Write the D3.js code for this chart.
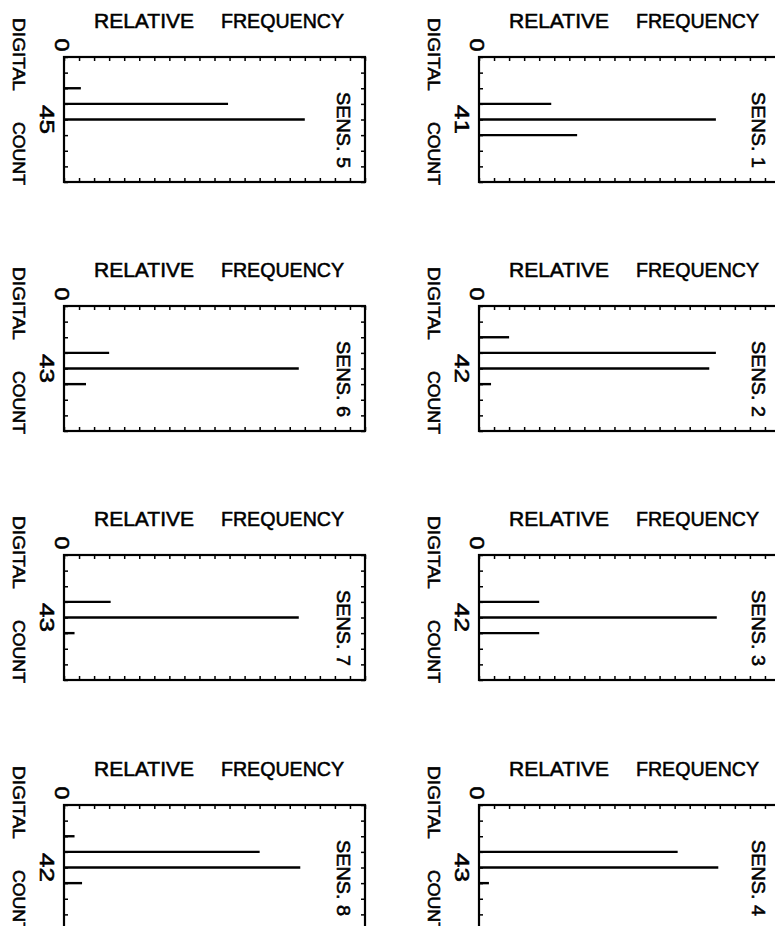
<!DOCTYPE html>
<html>
<head>
<meta charset="utf-8">
<script src="https://cdn.jsdelivr.net/npm/d3@7"></script>
<style>
  body { margin: 0; background: #fff; }
  svg text { font-family: "Liberation Sans", Arial, sans-serif; fill: #000; stroke: #000; stroke-width: 0.55; }
</style>
</head>
<body>
<div id="chart"></div>
<script>
// sensor histograms: digital count bins and relative frequency
const sensorIds    = [1, 2, 3, 4, 5, 6, 7, 8];
const centerCounts = [41, 42, 42, 43, 45, 43, 43, 42];
const binCounts = [
  [40, 41, 42],
  [40, 41, 42, 43],
  [41, 42, 43],
  [42, 43, 44],
  [43, 44, 45],
  [42, 43, 44],
  [42, 43, 44],
  [40, 41, 42, 43]
];
const binFreqs = [
  [0.24, 0.787, 0.326],
  [0.10, 0.787, 0.765, 0.04],
  [0.20, 0.79, 0.20],
  [0.66, 0.795, 0.033],
  [0.056, 0.545, 0.80],
  [0.15, 0.78, 0.073],
  [0.155, 0.78, 0.035],
  [0.035, 0.65, 0.785, 0.06]
];

const W = 775, H = 926;
const config = {
  colX: [64, 479],          // left column holds sensors 5-8, right 1-4
  rowY: [57, 306, 555, 805],
  boxW: 301,
  boxH: 125
};

const svg = d3.select('#chart').append('svg')
  .attr('width', W)
  .attr('height', H);

sensorIds.forEach((id, i) => {
  const col = id <= 4 ? 1 : 0;
  const row = (id - 1) % 4;
  const x0 = config.colX[col], y0 = config.rowY[row];
  const w = config.boxW, h = config.boxH;
  const c = centerCounts[i];

  const x = d3.scaleLinear().domain([0, 1]).range([x0, x0 + w]);
  const y = d3.scaleLinear().domain([c - 4, c + 4]).range([y0, y0 + h]);

  const g = svg.append('g').attr('class', 'panel');

  // inward ticks on all four sides
  const tickStyle = sel => {
    sel.select('.domain').remove();
    sel.selectAll('.tick line').attr('stroke', '#000').attr('stroke-width', 1.5);
    sel.selectAll('.tick text').remove();
  };
  g.append('g').attr('transform', `translate(0,${y0})`)
    .call(d3.axisTop(x).ticks(20).tickSize(-4).tickFormat('')).call(tickStyle);
  g.append('g').attr('transform', `translate(0,${y0 + h})`)
    .call(d3.axisBottom(x).ticks(20).tickSize(-4).tickFormat('')).call(tickStyle);
  g.append('g').attr('transform', `translate(${x0},0)`)
    .call(d3.axisLeft(y).ticks(8).tickSize(-4).tickFormat('')).call(tickStyle);
  g.append('g').attr('transform', `translate(${x0 + w},0)`)
    .call(d3.axisRight(y).ticks(8).tickSize(-4).tickFormat('')).call(tickStyle);

  g.append('rect')
    .attr('x', x0).attr('y', y0)
    .attr('width', w).attr('height', h)
    .attr('fill', 'none')
    .attr('stroke', '#000')
    .attr('stroke-width', 2.2);

  // histogram bars, drawn as single strokes from the left edge
  g.selectAll('line.bar')
    .data(binCounts[i].map((k, j) => ({count: k, freq: binFreqs[i][j]})))
    .enter().append('line')
    .attr('class', 'bar')
    .attr('x1', x(0))
    .attr('x2', d => x(d.freq))
    .attr('y1', d => y(d.count))
    .attr('y2', d => y(d.count))
    .attr('stroke', '#000')
    .attr('stroke-width', 2.4);

  // titles
  g.append('text')
    .attr('x', x0 + 30).attr('y', y0 - 29)
    .attr('font-size', 20.5)
    .attr('textLength', 100).attr('lengthAdjust', 'spacingAndGlyphs')
    .text('RELATIVE');
  g.append('text')
    .attr('x', x0 + 157).attr('y', y0 - 29)
    .attr('font-size', 20.5)
    .attr('textLength', 123).attr('lengthAdjust', 'spacingAndGlyphs')
    .text('FREQUENCY');

  g.append('text')
    .attr('transform', `translate(${x0 - 9},${y0 - 12}) rotate(90)`)
    .attr('text-anchor', 'middle')
    .attr('font-size', 20)
    .attr('textLength', 13).attr('lengthAdjust', 'spacingAndGlyphs')
    .text('0');

  g.append('text')
    .attr('transform', `translate(${x0 - 24},${y(c)}) rotate(90)`)
    .attr('text-anchor', 'middle')
    .attr('font-size', 20)
    .attr('textLength', 29).attr('lengthAdjust', 'spacingAndGlyphs')
    .text(c);

  g.append('text')
    .attr('transform', `translate(${x0 - 51},${y0 - 39}) rotate(90)`)
    .attr('font-size', 16.5)
    .attr('textLength', 73).attr('lengthAdjust', 'spacingAndGlyphs')
    .text('DIGITAL');
  g.append('text')
    .attr('transform', `translate(${x0 - 51},${y0 + 65}) rotate(90)`)
    .attr('font-size', 16.5)
    .attr('textLength', 63).attr('lengthAdjust', 'spacingAndGlyphs')
    .text('COUNT');

  g.append('text')
    .attr('transform', `translate(${x0 + 273},${y0 + 35}) rotate(90)`)
    .attr('font-size', 19)
    .attr('textLength', 76).attr('lengthAdjust', 'spacingAndGlyphs')
    .text(`SENS. ${id}`);
});
</script>
</body>
</html>
